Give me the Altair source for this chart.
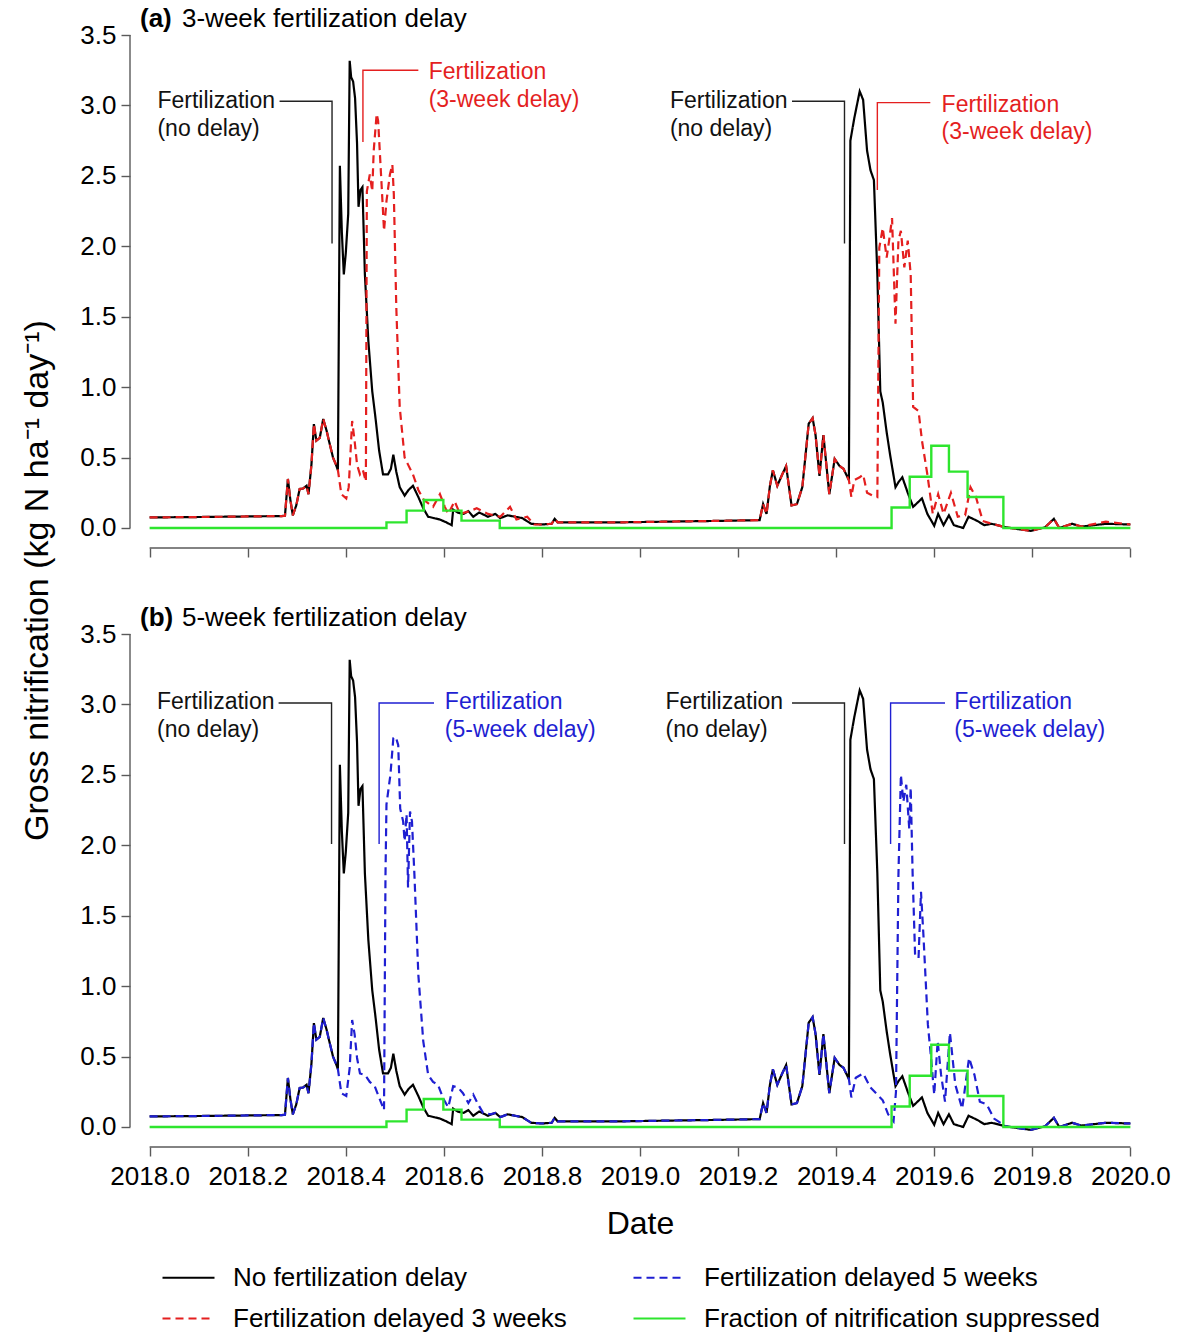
import altair as alt
import pandas as pd

# ------------------------------------------------------------------ data
# (date in decimal years, gross nitrification kg N/ha/day)
no_delay = [
    (2018.000, 0.075), (2018.100, 0.078), (2018.200, 0.082), (2018.270, 0.085), (2018.276, 0.087),
    (2018.282, 0.348), (2018.287, 0.20), (2018.292, 0.09), (2018.299, 0.16), (2018.306, 0.277),
    (2018.313, 0.28), (2018.320, 0.30), (2018.324, 0.24), (2018.330, 0.45), (2018.335, 0.738),
    (2018.340, 0.62), (2018.347, 0.64), (2018.354, 0.774), (2018.361, 0.69), (2018.367, 0.60),
    (2018.374, 0.50), (2018.380, 0.45), (2018.384, 0.41), (2018.388, 2.572), (2018.392, 2.10),
    (2018.396, 1.80), (2018.400, 1.95), (2018.405, 2.23), (2018.408, 3.317), (2018.411, 3.20),
    (2018.415, 3.17), (2018.419, 3.05), (2018.423, 2.73), (2018.426, 2.28), (2018.430, 2.40),
    (2018.434, 2.42), (2018.439, 1.80), (2018.446, 1.33), (2018.450, 1.15), (2018.454, 0.97),
    (2018.460, 0.80), (2018.468, 0.55), (2018.476, 0.38), (2018.486, 0.38), (2018.492, 0.42),
    (2018.497, 0.52), (2018.503, 0.40), (2018.510, 0.29), (2018.520, 0.23), (2018.528, 0.27),
    (2018.537, 0.30), (2018.548, 0.22), (2018.558, 0.14), (2018.568, 0.08), (2018.580, 0.07),
    (2018.592, 0.06), (2018.605, 0.04), (2018.616, 0.02), (2018.619, 0.13), (2018.628, 0.11),
    (2018.640, 0.10), (2018.650, 0.12), (2018.660, 0.08), (2018.672, 0.11), (2018.690, 0.08),
    (2018.705, 0.10), (2018.715, 0.07), (2018.730, 0.09), (2018.745, 0.08), (2018.760, 0.07),
    (2018.778, 0.03), (2018.800, 0.025), (2018.820, 0.03), (2018.826, 0.065), (2018.832, 0.04),
    (2018.860, 0.04), (2018.900, 0.04), (2018.959, 0.04), (2019.050, 0.045), (2019.150, 0.05),
    (2019.244, 0.056), (2019.251, 0.17), (2019.258, 0.10), (2019.265, 0.30), (2019.271, 0.41),
    (2019.280, 0.30), (2019.290, 0.38), (2019.298, 0.44), (2019.309, 0.16), (2019.320, 0.17),
    (2019.331, 0.29), (2019.344, 0.74), (2019.352, 0.78), (2019.358, 0.66), (2019.366, 0.37),
    (2019.374, 0.66), (2019.386, 0.24), (2019.397, 0.49), (2019.407, 0.44), (2019.415, 0.42),
    (2019.426, 0.34), (2019.429, 2.75), (2019.437, 2.91), (2019.448, 3.10), (2019.455, 3.04),
    (2019.463, 2.68), (2019.470, 2.54), (2019.477, 2.47), (2019.484, 1.80), (2019.490, 0.97),
    (2019.495, 0.89), (2019.503, 0.68), (2019.510, 0.52), (2019.521, 0.29), (2019.528, 0.33),
    (2019.535, 0.36), (2019.546, 0.25), (2019.557, 0.15), (2019.566, 0.18), (2019.575, 0.21),
    (2019.586, 0.10), (2019.600, 0.016), (2019.608, 0.10), (2019.619, 0.02), (2019.630, 0.09),
    (2019.640, 0.02), (2019.659, 0.00), (2019.670, 0.08), (2019.688, 0.05), (2019.702, 0.02),
    (2019.717, 0.03), (2019.746, 0.005), (2019.775, -0.01), (2019.797, -0.02), (2019.826, 0.005),
    (2019.844, 0.065), (2019.855, 0.00), (2019.881, 0.03), (2019.900, 0.01), (2019.950, 0.03),
    (2020.000, 0.025),
]

delay_3wk = [
    (2018.000, 0.075), (2018.100, 0.078), (2018.200, 0.082), (2018.270, 0.085), (2018.276, 0.087),
    (2018.282, 0.348), (2018.287, 0.20), (2018.292, 0.09), (2018.299, 0.16), (2018.306, 0.277),
    (2018.313, 0.28), (2018.320, 0.30), (2018.324, 0.24), (2018.330, 0.45), (2018.335, 0.738),
    (2018.340, 0.62), (2018.347, 0.64), (2018.354, 0.774), (2018.361, 0.69), (2018.367, 0.60),
    (2018.374, 0.50), (2018.380, 0.45), (2018.384, 0.41), (2018.391, 0.24), (2018.401, 0.21),
    (2018.406, 0.29), (2018.413, 0.76), (2018.418, 0.62), (2018.423, 0.45), (2018.429, 0.38),
    (2018.435, 0.41), (2018.441, 0.33), (2018.443, 2.39), (2018.449, 2.51), (2018.454, 2.39),
    (2018.457, 2.68), (2018.463, 2.94), (2018.466, 2.89), (2018.473, 2.44), (2018.478, 2.11),
    (2018.483, 2.32), (2018.490, 2.51), (2018.495, 2.58), (2018.498, 2.37), (2018.503, 1.57),
    (2018.510, 0.86), (2018.520, 0.50), (2018.527, 0.45), (2018.537, 0.38), (2018.548, 0.27),
    (2018.559, 0.20), (2018.578, 0.15), (2018.592, 0.24), (2018.602, 0.15), (2018.609, 0.10),
    (2018.622, 0.19), (2018.633, 0.10), (2018.653, 0.12), (2018.667, 0.14), (2018.690, 0.10),
    (2018.715, 0.08), (2018.735, 0.15), (2018.748, 0.06), (2018.770, 0.08), (2018.784, 0.025),
    (2018.800, 0.025), (2018.820, 0.03), (2018.826, 0.065), (2018.832, 0.04), (2018.860, 0.04),
    (2018.900, 0.04), (2018.959, 0.04), (2019.050, 0.045), (2019.150, 0.05), (2019.244, 0.056),
    (2019.251, 0.17), (2019.258, 0.10), (2019.265, 0.30), (2019.271, 0.41), (2019.280, 0.30),
    (2019.290, 0.38), (2019.298, 0.44), (2019.309, 0.16), (2019.320, 0.17), (2019.331, 0.29),
    (2019.344, 0.74), (2019.352, 0.78), (2019.358, 0.66), (2019.366, 0.37), (2019.374, 0.66),
    (2019.386, 0.24), (2019.397, 0.49), (2019.407, 0.44), (2019.415, 0.42), (2019.426, 0.34),
    (2019.431, 0.22), (2019.437, 0.34), (2019.448, 0.36), (2019.455, 0.38), (2019.463, 0.25),
    (2019.474, 0.23), (2019.484, 0.22), (2019.488, 1.99), (2019.495, 2.13), (2019.503, 1.92),
    (2019.508, 2.04), (2019.514, 2.20), (2019.521, 1.45), (2019.527, 2.04), (2019.532, 2.11),
    (2019.539, 1.85), (2019.546, 2.04), (2019.552, 1.80), (2019.557, 0.86), (2019.568, 0.83),
    (2019.575, 0.62), (2019.586, 0.38), (2019.597, 0.10), (2019.608, 0.24), (2019.619, 0.10),
    (2019.634, 0.25), (2019.648, 0.08), (2019.663, 0.09), (2019.674, 0.29), (2019.685, 0.22),
    (2019.699, 0.05), (2019.717, 0.03), (2019.746, 0.005), (2019.775, -0.01), (2019.797, -0.02),
    (2019.826, 0.005), (2019.844, 0.065), (2019.855, 0.00), (2019.881, 0.03), (2019.900, 0.01),
    (2019.950, 0.045), (2020.000, 0.025),
]

delay_5wk = [
    (2018.000, 0.075), (2018.100, 0.078), (2018.200, 0.082), (2018.270, 0.085), (2018.276, 0.087),
    (2018.282, 0.348), (2018.287, 0.20), (2018.292, 0.09), (2018.299, 0.16), (2018.306, 0.277),
    (2018.313, 0.28), (2018.320, 0.30), (2018.324, 0.24), (2018.330, 0.45), (2018.335, 0.738),
    (2018.340, 0.62), (2018.347, 0.64), (2018.354, 0.774), (2018.361, 0.69), (2018.367, 0.60),
    (2018.374, 0.50), (2018.380, 0.45), (2018.384, 0.41), (2018.391, 0.24), (2018.401, 0.22),
    (2018.408, 0.42), (2018.413, 0.76), (2018.418, 0.66), (2018.423, 0.49), (2018.429, 0.38),
    (2018.439, 0.37), (2018.449, 0.32), (2018.459, 0.29), (2018.469, 0.20), (2018.478, 0.12),
    (2018.481, 1.79), (2018.483, 2.29), (2018.491, 2.50), (2018.497, 2.76), (2018.502, 2.77),
    (2018.507, 2.71), (2018.511, 2.26), (2018.517, 2.17), (2018.520, 2.03), (2018.524, 2.22),
    (2018.527, 1.70), (2018.531, 2.24), (2018.535, 2.17), (2018.540, 1.79), (2018.548, 1.08),
    (2018.558, 0.61), (2018.568, 0.37), (2018.578, 0.32), (2018.588, 0.30), (2018.599, 0.20),
    (2018.609, 0.14), (2018.619, 0.29), (2018.629, 0.28), (2018.639, 0.24), (2018.650, 0.17),
    (2018.660, 0.23), (2018.670, 0.16), (2018.680, 0.10), (2018.695, 0.09), (2018.705, 0.10),
    (2018.715, 0.07), (2018.730, 0.09), (2018.745, 0.08), (2018.760, 0.07), (2018.778, 0.03),
    (2018.800, 0.025), (2018.820, 0.03), (2018.826, 0.065), (2018.832, 0.04), (2018.860, 0.04),
    (2018.900, 0.04), (2018.959, 0.04), (2019.050, 0.045), (2019.150, 0.05), (2019.244, 0.056),
    (2019.251, 0.17), (2019.258, 0.10), (2019.265, 0.30), (2019.271, 0.41), (2019.280, 0.30),
    (2019.290, 0.38), (2019.298, 0.44), (2019.309, 0.16), (2019.320, 0.17), (2019.331, 0.29),
    (2019.344, 0.74), (2019.352, 0.78), (2019.358, 0.66), (2019.366, 0.37), (2019.374, 0.66),
    (2019.386, 0.24), (2019.397, 0.49), (2019.407, 0.44), (2019.415, 0.42), (2019.426, 0.34),
    (2019.431, 0.21), (2019.440, 0.35), (2019.455, 0.38), (2019.470, 0.28), (2019.484, 0.23),
    (2019.495, 0.19), (2019.506, 0.09), (2019.517, 0.04), (2019.522, 0.25), (2019.527, 1.79),
    (2019.532, 2.50), (2019.537, 2.31), (2019.543, 2.43), (2019.549, 2.12), (2019.552, 2.41),
    (2019.556, 1.79), (2019.561, 1.22), (2019.568, 1.20), (2019.573, 1.67), (2019.578, 1.36),
    (2019.582, 1.08), (2019.587, 0.73), (2019.593, 0.51), (2019.600, 0.23), (2019.607, 0.61),
    (2019.614, 0.37), (2019.622, 0.18), (2019.632, 0.67), (2019.643, 0.30), (2019.657, 0.13),
    (2019.671, 0.49), (2019.682, 0.37), (2019.693, 0.18), (2019.707, 0.16), (2019.722, 0.06),
    (2019.746, 0.005), (2019.775, -0.01), (2019.797, -0.02), (2019.826, 0.005), (2019.844, 0.065),
    (2019.855, 0.00), (2019.881, 0.03), (2019.900, 0.01), (2019.950, 0.03), (2020.000, 0.025),
]

# fraction of nitrification suppressed: value from each change date on (step function)
suppressed = [
    (2018.000, 0.0), (2018.483, 0.04), (2018.524, 0.123), (2018.559, 0.199), (2018.599, 0.123),
    (2018.636, 0.052), (2018.714, 0.0), (2019.513, 0.146), (2019.550, 0.364), (2019.594, 0.584),
    (2019.630, 0.40), (2019.668, 0.22), (2019.741, 0.0), (2020.000, 0.0),
]

# legend order (filled column by column)
series_names = ["No fertilization delay", "Fertilization delayed 3 weeks",
                "Fertilization delayed 5 weeks", "Fraction of nitrification suppressed"]
x_ticks = [2018.0, 2018.2, 2018.4, 2018.6, 2018.8, 2019.0, 2019.2, 2019.4, 2019.6, 2019.8, 2020.0]
y_ticks = [0.0, 0.5, 1.0, 1.5, 2.0, 2.5, 3.0, 3.5]

# annotation leader paths (group, date, value) and labels (text, date, value)
lead_a_black = [("n18", 2018.265, 3.03), ("n18", 2018.372, 3.03), ("n18", 2018.372, 2.02),
                ("n19", 2019.310, 3.03), ("n19", 2019.417, 3.03), ("n19", 2019.417, 2.02)]
lead_a_col = [("d18", 2018.548, 3.25), ("d18", 2018.435, 3.25), ("d18", 2018.435, 2.74),
              ("d19", 2019.592, 3.02), ("d19", 2019.484, 3.02), ("d19", 2019.484, 2.40)]
lead_b_black = [("n18", 2018.263, 3.01), ("n18", 2018.371, 3.01), ("n18", 2018.371, 2.01),
                ("n19", 2019.310, 3.01), ("n19", 2019.417, 3.01), ("n19", 2019.417, 2.01)]
lead_b_col = [("d18", 2018.580, 3.01), ("d18", 2018.468, 3.01), ("d18", 2018.468, 2.01),
              ("d19", 2019.622, 3.01), ("d19", 2019.511, 3.01), ("d19", 2019.511, 2.01)]

lab_a_black = [("Fertilization", 2018.016, 3.03), ("(no delay)", 2018.016, 2.83),
               ("Fertilization", 2019.061, 3.03), ("(no delay)", 2019.061, 2.83)]
lab_a_col = [("Fertilization", 2018.569, 3.235), ("(3-week delay)", 2018.569, 3.04),
             ("Fertilization", 2019.615, 3.005), ("(3-week delay)", 2019.615, 2.81)]
lab_b_black = [("Fertilization", 2018.015, 3.02), ("(no delay)", 2018.015, 2.82),
               ("Fertilization", 2019.052, 3.02), ("(no delay)", 2019.052, 2.82)]
lab_b_col = [("Fertilization", 2018.602, 3.02), ("(5-week delay)", 2018.602, 2.82),
             ("Fertilization", 2019.641, 3.02), ("(5-week delay)", 2019.641, 2.82)]

title_a = ("(a)", "3-week fertilization delay")
title_b = ("(b)", "5-week fertilization delay")
y_title = "Gross nitrification (kg N ha\u207b\u00b9 day\u207b\u00b9)"
x_title = "Date"

# ------------------------------------------------------------------ styles
FONT = "Liberation Sans"
AX = "#5a5a5a"
BLACK, BLUE, RED, GREEN = "#000000", "#1f1fd2", "#e41f1f", "#2ee52e"
W, H = 1020, 513

legend = alt.Legend(
    title=None, orient="none", legendX=31, legendY=1215, columns=2,
    symbolType="stroke", symbolSize=2704, symbolStrokeWidth=2.2,
    labelFontSize=26, labelFont=FONT, labelColor="black", labelOffset=17, labelLimit=0,
    columnPadding=62, rowPadding=-5, padding=0,
)
color_enc = alt.Color("s:N", scale=alt.Scale(domain=series_names, range=[BLACK, RED, BLUE, GREEN]),
                      legend=legend)
dash_enc = alt.StrokeDash("s:N", scale=alt.Scale(domain=series_names,
                                                 range=[[1, 0], [8, 5], [8, 5], [1, 0]]),
                          legend=legend)

x_scale = alt.Scale(domain=[2017.96, 2020.04], nice=False, zero=False)
y_scale = alt.Scale(domain=[-0.142, 3.5], nice=False, zero=False)

common_axis = dict(domain=False, grid=False, tickSize=9, tickColor=AX, tickWidth=1.4,
                   labelOverlap=False, labelFlush=False, labelFontSize=26, labelFont=FONT,
                   labelColor="black")
y_enc = alt.Y("v:Q", scale=y_scale,
              axis=alt.Axis(values=y_ticks, format=".1f", title=None, labelPadding=5, **common_axis))


def x_enc(bottom):
    if bottom:
        ax = alt.Axis(values=x_ticks, format=".1f", title=x_title, labelPadding=7,
                      titleFontSize=32, titleFont=FONT, titleFontWeight="normal",
                      titleColor="black", titlePadding=19, **common_axis)
    else:
        ax = alt.Axis(values=x_ticks, labels=False, title=None, **common_axis)
    return alt.X("t:Q", scale=x_scale, axis=ax)


def series_df(points, name):
    return pd.DataFrame({"t": [p[0] for p in points], "v": [p[1] for p in points], "s": name})


def panel(delayed, delayed_name, delayed_color, lead_black, lead_col, lab_black, lab_col,
          title, bottom, with_ytitle):
    X = x_enc(bottom)
    layers = []
    # R-style axis lines spanning only the tick range
    one = pd.DataFrame({"k": [0]})
    layers.append(alt.Chart(one).mark_rule(color=AX, strokeWidth=1.4).encode(
        x=alt.value(0), y=alt.datum(0.0), y2=alt.datum(3.5)))
    layers.append(alt.Chart(one).mark_rule(color=AX, strokeWidth=1.4).encode(
        x=alt.datum(2018.0), x2=alt.datum(2020.0), y=alt.value(H)))
    # series
    layers.append(alt.Chart(series_df(no_delay, series_names[0])).mark_line(strokeWidth=2.2).encode(
        x=X, y=y_enc, color=color_enc, strokeDash=dash_enc))
    layers.append(alt.Chart(series_df(delayed, delayed_name)).mark_line(strokeWidth=2.2).encode(
        x=X, y=y_enc, color=color_enc, strokeDash=dash_enc))
    layers.append(alt.Chart(series_df(suppressed, series_names[3])).mark_line(
        strokeWidth=2.4, interpolate="step-after").encode(
        x=X, y=y_enc, color=color_enc, strokeDash=dash_enc))
    # leaders
    lb = pd.DataFrame({"g": [p[0] for p in lead_black], "t": [p[1] for p in lead_black],
                       "v": [p[2] for p in lead_black], "o": list(range(len(lead_black)))})
    lc = pd.DataFrame({"g": [p[0] for p in lead_col], "t": [p[1] for p in lead_col],
                       "v": [p[2] for p in lead_col], "o": list(range(len(lead_col)))})
    layers.append(alt.Chart(lb).mark_line(color="#222222", strokeWidth=1.4).encode(
        x=X, y=y_enc, detail="g:N", order="o:Q"))
    layers.append(alt.Chart(lc).mark_line(color=delayed_color, strokeWidth=1.4).encode(
        x=X, y=y_enc, detail="g:N", order="o:Q"))
    # labels
    tb = pd.DataFrame({"txt": [p[0] for p in lab_black], "t": [p[1] for p in lab_black],
                       "v": [p[2] for p in lab_black]})
    tc = pd.DataFrame({"txt": [p[0] for p in lab_col], "t": [p[1] for p in lab_col],
                       "v": [p[2] for p in lab_col]})
    layers.append(alt.Chart(tb).mark_text(align="left", baseline="middle", fontSize=23, font=FONT,
                                          color="#111111").encode(x=X, y=y_enc, text="txt:N"))
    layers.append(alt.Chart(tc).mark_text(align="left", baseline="middle", fontSize=23, font=FONT,
                                          color=delayed_color).encode(x=X, y=y_enc, text="txt:N"))
    # panel title: bold tag + plain text
    tdf = pd.DataFrame({"tag": [title[0]], "rest": [title[1]]})
    layers.append(alt.Chart(tdf).mark_text(align="left", baseline="middle", fontSize=26, font=FONT,
                                           fontWeight="bold", color="black").encode(
        x=alt.value(10), y=alt.value(-16), text="tag:N"))
    layers.append(alt.Chart(tdf).mark_text(align="left", baseline="middle", fontSize=26, font=FONT,
                                           color="black").encode(
        x=alt.value(52), y=alt.value(-16), text="rest:N"))
    if with_ytitle:
        ydf = pd.DataFrame({"lab": [y_title]})
        layers.append(alt.Chart(ydf).mark_text(angle=270, align="center", baseline="middle",
                                               fontSize=34, font=FONT, color="black").encode(
            x=alt.value(-92), y=alt.value(545.5), text="lab:N"))
    return alt.layer(*layers).properties(width=W, height=H)


top = panel(delay_3wk, series_names[1], RED, lead_a_black, lead_a_col, lab_a_black, lab_a_col,
            title_a, bottom=False, with_ytitle=True)
bot = panel(delay_5wk, series_names[2], BLUE, lead_b_black, lead_b_col, lab_b_black, lab_b_col,
            title_b, bottom=True, with_ytitle=False)

chart = alt.vconcat(top, bot, spacing=86, bounds="flush").resolve_scale(
    color="shared", strokeDash="shared").resolve_legend(color="shared", strokeDash="shared").configure(
    padding={"left": 21, "top": 6, "right": 0, "bottom": 0}, background="white",
    autosize=alt.AutoSizeParams(type="pad")).configure_view(stroke=None)

chart.save("out.html", embed_options={"renderer": "svg", "actions": False})
